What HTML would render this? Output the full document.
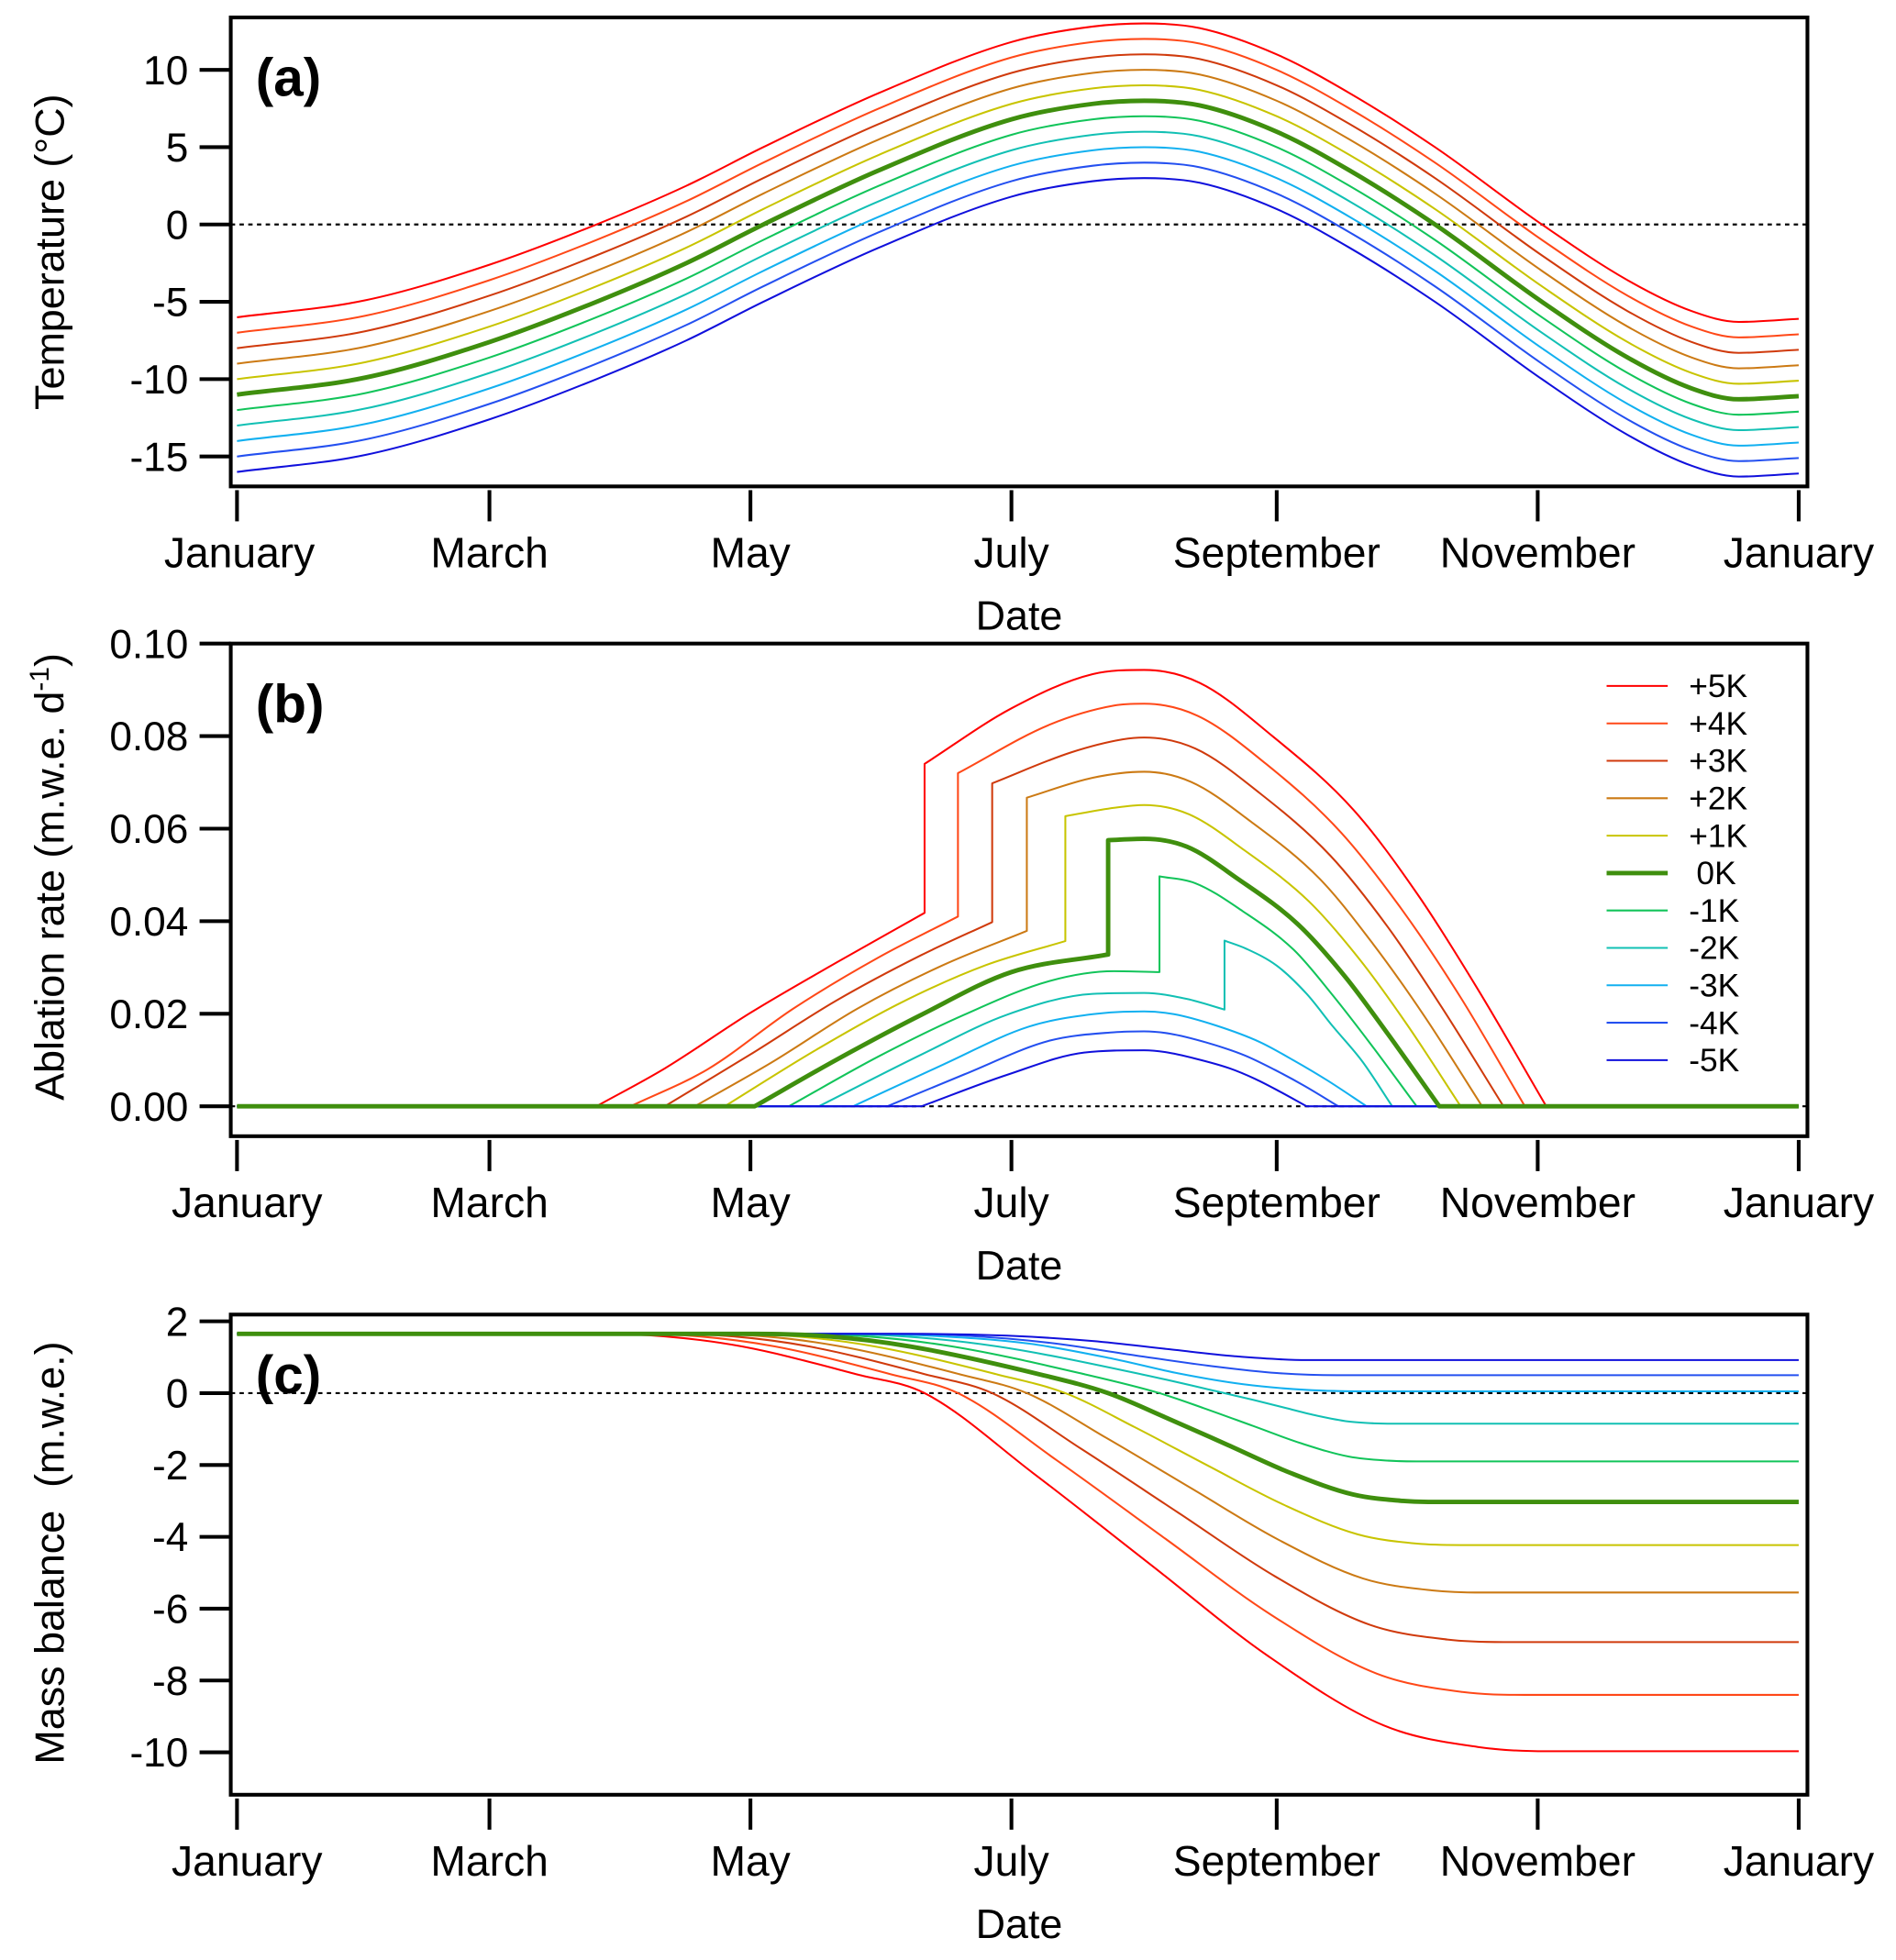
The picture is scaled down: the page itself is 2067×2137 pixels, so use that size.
<!DOCTYPE html>
<html><head><meta charset="utf-8"><style>
html,body{margin:0;padding:0;background:#fff;}
svg{display:block;font-family:"Liberation Sans",Arial,sans-serif;}
</style></head><body>
<svg id="fig" width="2067" height="2137" viewBox="0 0 1520 1571.5" preserveAspectRatio="none" xmlns="http://www.w3.org/2000/svg"></svg>
<script>
// ---------- data ----------
const monthTickDays = [0, 59, 120, 181, 243, 304, 365];
const monthTickLabels = ["January","March","May","July","September","November","January"];
const scenarioLabels = ["+5K","+4K","+3K","+2K","+1K","0K","-1K","-2K","-3K","-4K","-5K"];
const scenarioOffsets = [5,4,3,2,1,0,-1,-2,-3,-4,-5];
const scenarioColors = ["#ff0000","#ff4818","#d03a0c","#cc7a14","#c8c400","#3f8f0e","#12c45a","#12c0b4","#12b0f0","#2450f0","#1010dc"];

// (a) temperature, 0K baseline (°C)
const tempDays = [0,30,59,84,105,123,150,181,200,212,225,243,260,280,305,325,340,351,365];
const tempBase = [-11,-9.9,-7.6,-5,-2.5,0,3.5,6.8,7.8,8.0,7.7,6.0,3.5,0,-5,-8.6,-10.6,-11.3,-11.1];
const tempTicks = [10,5,0,-5,-10,-15];

// (b) ablation rate (m.w.e. d-1)
const ablDays = [
 [0,84,100,120,140,160.7,160.7,181,200,212,225,242,261,276,290,306,365],
 [0,92,110,130,150,168.5,168.5,190,205,212,224.5,240.5,258,272.5,286,301,365],
 [0,100,120,140,160,176.5,176.5,195,207,212,224,239,255.5,269,281.5,296,365],
 [0,107,125,145,165,184.6,184.6,200,212,223,237,253,265.5,277.5,291,365],
 [0,114,135,155,175,193.6,193.6,205,212,222.5,235.5,250.5,262.5,273.5,286,365],
 [0,121,140,160,181,203.6,203.6,212,222,234,248,259,269,281,365],
 [0,129,150,170,190,205,215.6,215.6,224,235,247,256,265,275.7,365],
 [0,136,160,180,200,212,222,230.8,230.8,236,243,250,256,263,270,365],
 [0,144,165,185,200,212,219,229,239,247,255,264,365],
 [0,152,170,190,205,212,218,226.5,235.5,242.5,249.5,257.4,365],
 [0,160,180,198,212,217,224,232,238,243.5,250,365]
];
const ablVals = [
 [0,0,.0082,.0202,.031,.0418,.074,.086,.0934,.0943,.0915,.080,.064,.0457,.0253,0,0],
 [0,0,.008,.0211,.0322,.041,.072,.0825,.0866,.087,.0844,.074,.0592,.0422,.0235,0,0],
 [0,0,.0112,.0228,.0327,.0398,.0698,.0765,.0793,.0797,.0773,.0677,.0542,.0387,.0215,0,0],
 [0,0,.0095,.0211,.0305,.0379,.0667,.0710,.0723,.0701,.0615,.0492,.0351,.0195,0,0],
 [0,0,.012,.0223,.0305,.0357,.0627,.0645,.0651,.0631,.0553,.0443,.0316,.0176,0,0],
 [0,0,.010,.0198,.029,.0328,.0575,.0578,.0561,.0491,.0393,.028,.0156,0,0],
 [0,0,.0108,.0198,.0271,.0292,.029,.0497,.0482,.0422,.0338,.0241,.0134,0,0],
 [0,0,.0112,.0198,.0243,.0245,.0232,.0209,.0358,.034,.0304,.0243,.0174,.0097,0,0],
 [0,0,.009,.0172,.0199,.0205,.0199,.0174,.0139,.0099,.0055,0,0],
 [0,0,.0069,.0142,.016,.0162,.0157,.0138,.011,.0079,.0044,0,0],
 [0,0,.0068,.0116,.0121,.0117,.0103,.0082,.0059,.0033,0,0]
];
const ablTicks = [0.10,0.08,0.06,0.04,0.02,0.00];

// (c) mass balance (m.w.e.)
const mbDays = [
 [0,84,100,118,145,160.7,186,213.5,241,268,290,306,365],
 [0,92,108,125.7,153,168.5,191.6,216.6,241.8,266.4,286.4,301,365],
 [0,100,116,133.7,161,176.5,197.3,219.9,242.6,264.8,282.9,296,365],
 [0,107,123.3,141.1,169.1,184.6,203.1,223.2,243.4,263.2,279.3,291,365],
 [0,114,130.7,149,177.7,193.6,209.7,227.1,244.7,261.9,275.8,286,365],
 [0,121,138.3,157.3,187.7,203.6,217.1,231.7,246.4,260.8,272.5,281,365],
 [0,129,147.2,167.1,198.3,215.6,226,237.4,248.8,260,269.1,275.7,365],
 [0,136,155.9,177.7,211.6,230.8,237.6,245,252.5,259.8,265.7,270,365],
 [0,144,160,185,205,220,235,250,264,365],
 [0,152,170,190,210,228,243,257,365],
 [0,160,180,200,218,233,250,365]
];
const mbVals = [
 [1.65,1.65,1.58,1.30,.52,0,-2.22,-4.77,-7.32,-9.25,-9.85,-9.97,-9.97],
 [1.65,1.65,1.58,1.30,.52,0,-1.87,-4.02,-6.18,-7.81,-8.32,-8.4,-8.4],
 [1.65,1.65,1.58,1.30,.52,0,-1.55,-3.32,-5.10,-6.45,-6.86,-6.93,-6.93],
 [1.65,1.65,1.58,1.30,.52,0,-1.24,-2.66,-4.08,-5.16,-5.49,-5.55,-5.55],
 [1.65,1.65,1.58,1.30,.52,0,-.94,-2.03,-3.11,-3.93,-4.19,-4.23,-4.23],
 [1.65,1.65,1.58,1.30,.52,0,-.68,-1.45,-2.23,-2.82,-3.0,-3.03,-3.03],
 [1.65,1.65,1.58,1.30,.52,0,-.42,-.91,-1.40,-1.77,-1.88,-1.9,-1.9],
 [1.65,1.65,1.58,1.30,.52,0,-.19,-.41,-.63,-.79,-.84,-.85,-.85],
 [1.65,1.65,1.61,1.38,.95,.55,.25,.09,.05,.05],
 [1.65,1.65,1.6,1.4,1.05,.75,.56,.5,.5],
 [1.65,1.65,1.6,1.45,1.22,1.03,.92,.92]
];
const mbTicks = [2,0,-2,-4,-6,-8,-10];

// ---------- drawing ----------
const NS = "http://www.w3.org/2000/svg";
const svg = document.getElementById("fig");
function mk(tag, attrs, parent){
  const e = document.createElementNS(NS, tag);
  for (const k in attrs) e.setAttribute(k, attrs[k]);
  (parent||svg).appendChild(e);
  return e;
}
const X0 = 190, X1 = 1442, BOXL = 185, BOXR = 1449;
function xScale(d){ return X0 + d*(X1-X0)/365; }

function monoSeg(p){
  const n = p.length;
  if (n < 2) return "";
  if (n === 2) return " L"+p[1][0].toFixed(2)+","+p[1][1].toFixed(2);
  const dx=[], m=[];
  for (let i=0;i<n-1;i++){ dx[i]=p[i+1][0]-p[i][0]; m[i]=(p[i+1][1]-p[i][1])/dx[i]; }
  const t=[m[0]];
  for (let i=1;i<n-1;i++) t[i] = (m[i-1]*m[i] <= 0) ? 0 : (m[i-1]+m[i])/2;
  t[n-1]=m[n-2];
  for (let i=0;i<n-1;i++){
    if (m[i]===0){ t[i]=0; t[i+1]=0; continue; }
    const a=t[i]/m[i], b=t[i+1]/m[i], s=a*a+b*b;
    if (s>9){ const tau=3/Math.sqrt(s); t[i]=tau*a*m[i]; t[i+1]=tau*b*m[i]; }
  }
  let d="";
  for (let i=0;i<n-1;i++){
    const h=dx[i]/3;
    d += " C"+(p[i][0]+h).toFixed(2)+","+(p[i][1]+t[i]*h).toFixed(2)+" "+(p[i+1][0]-h).toFixed(2)+","+(p[i+1][1]-t[i+1]*h).toFixed(2)+" "+p[i+1][0].toFixed(2)+","+p[i+1][1].toFixed(2);
  }
  return d;
}
function linePath(days, vals, yScale, sharpFlat){
  const pts = days.map((d,i)=>[xScale(d), yScale(vals[i])]);
  const segs=[[pts[0]]];
  for (let i=1;i<pts.length;i++){
    if (Math.abs(pts[i][0]-pts[i-1][0])<1e-6) { segs.push([pts[i]]); continue; }
    segs[segs.length-1].push(pts[i]);
    if (sharpFlat && i<pts.length-1){
      const fPrev = Math.abs(pts[i][1]-pts[i-1][1])<1e-6;
      const fNext = Math.abs(pts[i+1][1]-pts[i][1])<1e-6;
      if (fPrev !== fNext) segs.push([pts[i]]);
    }
  }
  let d="M"+pts[0][0].toFixed(2)+","+pts[0][1].toFixed(2)+monoSeg(segs[0]);
  for (let s=1;s<segs.length;s++){
    d += " L"+segs[s][0][0].toFixed(2)+","+segs[s][0][1].toFixed(2)+monoSeg(segs[s]);
  }
  return d;
}

function panel(cfg){
  const g = mk("g", {});
  
  
  const z = mk("line",{x1:BOXL,x2:BOXR,y1:cfg.y(0),y2:cfg.y(0),stroke:"#000","stroke-width":1.6,"stroke-dasharray":"3.5,3.5"},g);
  
  
  const order=[0,1,2,3,4,6,7,8,9,10,5];
  order.forEach(i=>{
    const p = mk("path",{d:linePath(cfg.days(i), cfg.vals(i), cfg.y, cfg.sharp), fill:"none", stroke:scenarioColors[i], "stroke-width": i===5?3.6:1.5, "stroke-linejoin":"round"}, g);
    
    
  });
  const b = mk("rect",{x:BOXL,y:cfg.top,width:BOXR-BOXL,height:cfg.bot-cfg.top,fill:"none",stroke:"#000","stroke-width":3},g);
  
  
  cfg.ticks.forEach(v=>{
    const yy=cfg.y(v);
    const t = mk("line",{x1:160,x2:BOXL,y1:yy,y2:yy,stroke:"#000","stroke-width":3},g);
    
    
    const l = mk("text",{x:151,y:yy+11.5,"text-anchor":"end","font-size":32.5},g);
    l.textContent = cfg.fmt(v);
    
    
  });
  monthTickDays.forEach((d,i)=>{
    const xx=xScale(d);
    const t = mk("line",{x1:xx,x2:xx,y1:cfg.bot+3,y2:cfg.bot+28,stroke:"#000","stroke-width":3},g);
    
    
    let lx = xx;
    if (i===0) lx = xx+ (cfg.janShift||0);
    const l = mk("text",{x:lx,y:cfg.bot+65,"text-anchor":"middle","font-size":34},g);
    l.textContent = monthTickLabels[i];
    
    
  });
  const xt = mk("text",{x:817,y:cfg.bot+115,"text-anchor":"middle","font-size":33},g);
  xt.textContent="Date";
  
  
  const pl = mk("text",{x:205,y:cfg.top+63,"font-size":43,"font-weight":"bold"},g);
  pl.textContent=cfg.letter;
  
  
  return g;
}

panel({name:"temperature-panel", top:14, bot:390, y:v=>180-12.4*v, ticks:tempTicks, fmt:v=>String(v),
  days:i=>tempDays, vals:i=>tempBase.map(v=>v+scenarioOffsets[i]), letter:"(a)", janShift:2, sharp:false});
panel({name:"ablation-panel", top:516, bot:911, y:v=>887-3710*v, ticks:ablTicks, fmt:v=>v.toFixed(2),
  days:i=>ablDays[i], vals:i=>ablVals[i], letter:"(b)", janShift:8, sharp:true});
panel({name:"mass-balance-panel", top:1054, bot:1439, y:v=>1117-28.8*v, ticks:mbTicks, fmt:v=>String(v),
  days:i=>mbDays[i], vals:i=>mbVals[i], letter:"(c)", janShift:8, sharp:false});

function ytitle(txt, cx, cy, name){
  const t = mk("text",{x:0,y:0,"text-anchor":"middle","font-size":33,transform:"translate("+cx+","+cy+") rotate(-90)"});
  t.innerHTML = txt;
  
  
}
ytitle("Temperature (°C)", 51, 202, "y-axis-title-temperature");
ytitle('Ablation rate (m.w.e. d<tspan dy="-12" font-size="22">-1</tspan><tspan dy="12">)</tspan>', 51, 703, "y-axis-title-ablation");
ytitle("Mass balance&#160;&#160;(m.w.e.)", 51, 1245, "y-axis-title-mass-balance");

const lg = mk("g",{});


scenarioLabels.forEach((lab,i)=>{
  const yy = 550 + i*30;
  const l = mk("line",{x1:1288,x2:1337,y1:yy,y2:yy,stroke:scenarioColors[i],"stroke-width":i===5?3.6:1.5},lg);
  
  
  const t = mk("text",{x:i===5?1360:1354,y:yy+9,"font-size":26},lg);
  t.textContent = lab;
  
  
});
</script>
</body></html>
